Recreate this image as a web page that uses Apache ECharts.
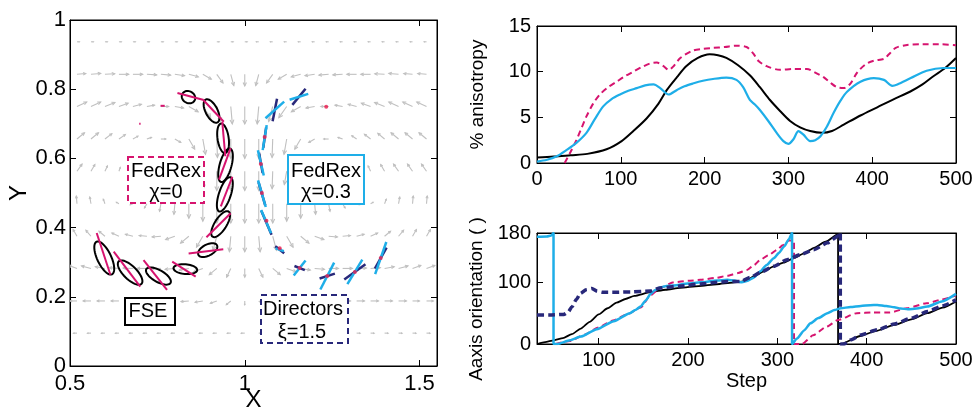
<!DOCTYPE html>
<html>
<head>
<meta charset="utf-8">
<script src="https://cdn.jsdelivr.net/npm/echarts@6/dist/echarts.min.js"></script>
<style>
  html, body { margin: 0; padding: 0; background: #fff; }
  #c { width: 972px; height: 410px; }
</style>
</head>
<body>
<div id="c"></div>
<script>
const FONT = '"Liberation Sans", Arial, Helvetica, sans-serif';
const MAG = '#d6146f', CYAN = '#1eaee8', NAVY = '#28287a', GRAY = '#c0c0c0', RED = '#e8174a';

// ---- left panel: velocity field (grid columns / rows, angle in deg, relative length)
const fieldX = [0.52, 0.56, 0.60, 0.64, 0.68, 0.72, 0.76, 0.80, 0.84, 0.88, 0.92, 0.96, 1.00,
  1.04, 1.08, 1.12, 1.16, 1.20, 1.24, 1.28, 1.32, 1.36, 1.40, 1.44, 1.48, 1.52];
const fieldY = [0.095, 0.188, 0.282, 0.375, 0.469, 0.563, 0.656, 0.75, 0.843, 0.937];
const fieldAngle = [
  [180,180,180,180,180,180,180,180,180,180,180,180,180, 0,0,0,0,0,0,0,0,0,0,0,0,0],
  [180,180,180,180,180,180,180,-178,-175,-170,-160,-140,-90, -40,-20,-10,-5,-2,0,0,0,0,0,0,0,0],
  [160,165,170,175,178,180,180,-175,-170,-160,-140,-115,-90, -65,-40,-20,-10,-5,0,0,2,5,10,15,20,20],
  [120,130,140,155,165,175,-175,-160,-140,-120,-105,-95,-90, -85,-75,-60,-40,-20,-5,5,15,25,40,50,60,60],
  [95,100,110,150,-160,-120,-100,-95,-90,-90,-90,-90,-90, -90,-90,-90,-90,-85,-80,-60,-20,30,70,80,85,85],
  [55,60,65,70,60,30,-20,-60,-80,-88,-90,-90,-90, -90,-92,-100,-120,-160,150,120,110,115,120,125,125,125],
  [40,40,38,35,30,20,0,-30,-60,-80,-88,-90,-90, -90,-92,-100,-120,-150,180,160,145,142,140,140,140,140],
  [25,25,22,20,15,10,0,-10,-30,-55,-75,-85,-90, -95,-105,-125,-150,-170,180,170,165,160,158,155,155,155],
  [5,5,3,0,0,-3,-5,-8,-15,-30,-55,-75,-90, -105,-125,-150,-165,-172,-175,-177,180,180,177,175,175,175],
  [0,0,0,0,0,0,0,0,0,0,0,0,0, 180,180,180,180,180,180,180,180,180,180,180,180,180]
];
const fieldMag = [
  [.18,.18,.18,.18,.18,.18,.18,.18,.18,.18,.18,.18,.18, .18,.18,.18,.18,.18,.18,.18,.18,.18,.18,.18,.18,.18],
  [.35,.4,.4,.4,.4,.4,.4,.4,.4,.4,.35,.3,.2, .3,.35,.4,.4,.4,.4,.4,.4,.4,.4,.4,.35,.35],
  [.45,.5,.5,.5,.5,.5,.5,.5,.5,.5,.5,.5,.45, .5,.5,.5,.5,.5,.5,.5,.5,.5,.5,.5,.45,.45],
  [.4,.4,.4,.4,.4,.4,.45,.5,.55,.65,.75,.8,.8, .8,.75,.65,.55,.5,.45,.4,.4,.4,.4,.4,.4,.4],
  [.4,.35,.25,.15,.15,.25,.4,.55,.75,.9,1,1,1, 1,1,.9,.75,.55,.4,.25,.15,.15,.25,.35,.4,.4],
  [.45,.4,.3,.2,.15,.15,.25,.45,.7,.9,1,1,1, 1,.9,.7,.45,.25,.15,.15,.2,.3,.4,.45,.45,.45],
  [.5,.5,.45,.4,.3,.25,.25,.35,.6,.8,.95,1,1, 1,.95,.8,.6,.35,.25,.25,.3,.4,.45,.5,.5,.5],
  [.55,.55,.55,.5,.45,.4,.4,.45,.55,.7,.8,.9,.9, .9,.8,.7,.55,.45,.4,.4,.45,.5,.55,.55,.55,.55],
  [.45,.5,.5,.5,.5,.5,.5,.5,.5,.5,.55,.6,.6, .6,.55,.5,.5,.5,.5,.5,.5,.5,.5,.5,.45,.45],
  [.12,.12,.12,.12,.12,.12,.12,.12,.12,.12,.12,.12,.12, .12,.12,.12,.12,.12,.12,.12,.12,.12,.12,.12,.12,.12]
];

// FSE ellipses: [x, y, semi-major, semi-minor, angle deg]
const fseEllipses = [
  [0.839, 0.777, 0.020, 0.017, -30],
  [0.905, 0.737, 0.037, 0.017, -63],
  [0.938, 0.658, 0.043, 0.016, -82],
  [0.945, 0.580, 0.050, 0.017, 75],
  [0.943, 0.496, 0.052, 0.017, 72],
  [0.931, 0.410, 0.043, 0.017, 58],
  [0.894, 0.335, 0.030, 0.016, 28],
  [0.830, 0.280, 0.034, 0.014, -5],
  [0.753, 0.260, 0.040, 0.017, -30],
  [0.672, 0.270, 0.046, 0.019, -45],
  [0.598, 0.312, 0.052, 0.020, -65]
];
// director segments: [x, y, length, angle deg]
const fedrexChi0 = [
  [0.845, 0.779, 0.078, -15], [0.911, 0.737, 0.085, -47], [0.940, 0.656, 0.100, -85],
  [0.943, 0.584, 0.097, 70], [0.948, 0.504, 0.092, 69], [0.925, 0.407, 0.098, 45],
  [0.889, 0.331, 0.100, 7], [0.826, 0.280, 0.080, -33], [0.744, 0.263, 0.109, -52],
  [0.663, 0.280, 0.126, -53], [0.596, 0.324, 0.127, -72],
  [0.765, 0.752, 0.012, 0], [0.700, 0.700, 0.004, 0]
];
const fedrexChi03 = [
  [1.086, 0.740, 0.072, 42], [1.155, 0.778, 0.056, 18], [1.057, 0.660, 0.073, 81],
  [1.046, 0.587, 0.075, 103], [1.049, 0.498, 0.080, 106], [1.061, 0.417, 0.073, 113],
  [1.100, 0.336, 0.025, -18], [1.157, 0.283, 0.055, 52], [1.236, 0.260, 0.087, 63],
  [1.315, 0.272, 0.083, 59], [1.389, 0.312, 0.098, 71]
];
const directorsXi = [
  [1.086, 0.740, 0.066, 79], [1.155, 0.778, 0.060, 51], [1.057, 0.660, 0.060, 82],
  [1.046, 0.587, 0.060, 100], [1.049, 0.498, 0.070, 106], [1.062, 0.414, 0.075, 113],
  [1.100, 0.336, 0.033, -39], [1.157, 0.283, 0.032, -22], [1.236, 0.260, 0.046, 18],
  [1.315, 0.272, 0.075, 36], [1.389, 0.312, 0.069, 61]
];
const redDots = [
  [1.233, 0.749], [1.057, 0.662], [1.046, 0.584], [1.049, 0.500], [1.062, 0.420],
  [1.100, 0.340], [1.157, 0.283], [1.236, 0.260], [1.315, 0.272], [1.389, 0.312]
];

// ---- top right: % anisotropy vs step
const anisoFSE = [[0,0.6],[20,0.7],[40,0.85],[60,1.0],[83,1.5],[101,2.4],[115,3.5],[131,4.9],[145,6.5],
  [155,8.0],[167,9.4],[178,10.6],[192,11.5],[206,11.9],[216,11.8],[226,11.5],[240,10.7],[254,9.6],
  [266,8.3],[278,6.9],[290,5.7],[302,4.6],[314,3.9],[326,3.5],[340,3.3],[352,3.5],[366,4.2],[386,5.2],
  [406,6.1],[426,7.0],[445,7.8],[460,8.6],[473,9.5],[487,10.4],[500,11.5]];
const anisoChi0 = [[33,0],[40,1.2],[47,2.5],[53,3.8],[59,5.1],[67,6.5],[75,7.5],[85,8.3],[95,8.9],
  [105,9.5],[115,10.0],[125,10.5],[135,10.9],[143,11.0],[151,10.6],[157,10.2],[163,10.6],[171,11.5],
  [186,12.3],[198,12.5],[210,12.6],[224,12.7],[238,12.85],[250,12.7],[258,12.0],[264,11.2],[274,10.6],
  [290,10.2],[306,10.3],[322,10.3],[332,9.9],[342,9.4],[350,8.8],[358,8.3],[366,8.2],[374,8.7],
  [382,9.9],[392,10.8],[402,11.2],[414,11.4],[420,11.9],[428,12.6],[440,12.9],[460,13.0],[480,13.0],[500,12.9]];
const anisoChi03 = [[0,0.15],[12,0.35],[23,0.7],[35,1.4],[47,2.2],[59,3.3],[69,4.8],[79,6.2],[89,7.0],
  [99,7.5],[109,7.9],[119,8.2],[129,8.5],[139,8.6],[147,8.2],[157,7.5],[167,8.0],[176,8.4],[186,8.7],
  [198,9.0],[210,9.2],[226,9.35],[238,9.1],[246,8.3],[254,6.9],[260,6.4],[266,5.8],[276,4.6],[286,3.3],
  [294,2.4],[300,2.1],[306,2.6],[312,3.5],[318,3.1],[326,2.4],[332,2.5],[338,2.9],[346,4.0],[354,5.5],
  [362,6.8],[370,7.8],[386,8.9],[402,9.3],[414,9.1],[424,8.45],[430,8.6],[446,9.3],[465,10.1],[485,10.4],[500,10.4]];

// ---- bottom right: axis orientation vs step
const orientFSE = [[31.5,0],[40,3],[50,6],[60,9.5],[70,16],[80,25],[90,36],[100,48],[110,58],[120,67],
  [130,73],[140,78],[158,84],[175,88],[191,91],[212,94],[232,96.8],[250,99.5],[260,101],[266,103.5],
  [274,110],[285,118],[296,126],[307,132],[318,139],[330,147],[341,156],[354,166],[368,178],[368,0],
  [371,0],[393,13],[410,21],[431,31],[450,40],[468,50],[485,59],[500,69]];
const orientChi0 = [[52,0],[68,5],[84,15],[100,27],[116,38],[132,48],[147,59],[158,79],[169,91],[184,100],
  [200,102.5],[214,104],[230,107],[244,110.6],[256,115],[266,120],[274,128],[281,136.6],[290,144],
  [300,153],[306,160],[313,168],[318.7,168],[318.7,0],[327.5,0],[340,14],[355,28],[368,39],[389,50],
  [407,51],[426,51],[445,58],[467,66],[484,72],[500,79]];
const orientChi03 = [[31,174],[42,174.5],[47,176],[49.5,180],[49.5,0],[54,0],[68,6],[80,12],[98,24],[117,37],
  [135,50],[141,55],[147,61],[153,71],[158,81],[163,87],[169,92],[176,94],[184,95],[200,98],[214,100],
  [232,103],[244,104],[252,103],[259,100],[266,102],[274,108],[281,118],[288,128],[296,139],[302,148],
  [307.5,158],[313,170],[316.5,180],[316.5,0],[322,9],[330,22],[337,33.6],[346,42],[356,50],[364,55],
  [371,58],[382,60],[393.5,61.8],[404,63],[412,63.4],[422,61.5],[431,59.7],[438,57.5],[446,56.4],
  [456,57.5],[468,60.7],[484,69],[500,81.3]];
const orientXi = [[31,47],[45,47],[61,48],[66,52],[70,60],[75,72],[79.5,82],[86,88],[92.5,90],[98,86],
  [104,84],[120,84],[135.5,84.5],[158,86],[169,91],[191,94],[214,97.5],[232.5,100],[244,101.4],[259,101.5],
  [270,108],[281,116],[296,126],[311,136.7],[326,145],[341,153],[356,164],[369,176],[370.5,180],
  [370.5,0],[375,0],[382,6.5],[393.5,14.6],[412,23],[431,32.5],[450,42],[468,52.6],[485,62],[500,71.6]];

// ---------------------------------------------------------------------------
const quiverData = [];
fieldY.forEach((y, r) => fieldX.forEach((x, c) => quiverData.push([x, y, fieldAngle[r][c], fieldMag[r][c]])));

const ARROW = 0.056; // data units for a relative length of 1

function renderArrow(params, api) {
  const a = api.value(2) * Math.PI / 180;
  const L = api.value(3) * ARROW;
  const p = api.coord([api.value(0), api.value(1)]);
  const s = api.size([1, 1]);
  const dx = Math.cos(a) * L * s[0], dy = -Math.sin(a) * L * s[1];
  const tip = [p[0] + dx, p[1] + dy];
  const hl = Math.min(Math.hypot(dx, dy) * 0.33, 4.5);
  const h1 = [tip[0] + Math.cos(a + Math.PI - 0.45) * hl, tip[1] - Math.sin(a + Math.PI - 0.45) * hl];
  const h2 = [tip[0] + Math.cos(a + Math.PI + 0.45) * hl, tip[1] - Math.sin(a + Math.PI + 0.45) * hl];
  return {
    type: 'group',
    children: [
      { type: 'line', shape: { x1: p[0], y1: p[1], x2: tip[0], y2: tip[1] }, style: { stroke: GRAY, lineWidth: 1.1 } },
      { type: 'polyline', shape: { points: [h1, tip, h2] }, style: { stroke: GRAY, fill: null, lineWidth: 1.1 } }
    ]
  };
}

function renderEllipse(params, api) {
  const c = api.coord([api.value(0), api.value(1)]);
  const s = api.size([1, 1]);
  const ra = api.value(2), rb = api.value(3), t = api.value(4) * Math.PI / 180;
  const pts = [];
  for (let i = 0; i < 48; i++) {
    const u = i / 48 * Math.PI * 2;
    const ex = ra * Math.cos(u), ey = rb * Math.sin(u);
    pts.push([c[0] + (ex * Math.cos(t) - ey * Math.sin(t)) * s[0],
              c[1] - (ex * Math.sin(t) + ey * Math.cos(t)) * s[1]]);
  }
  return { type: 'polygon', shape: { points: pts }, style: { stroke: '#000', fill: null, lineWidth: 2 } };
}

function segmentRenderer(color, width) {
  return function (params, api) {
    const c = api.coord([api.value(0), api.value(1)]);
    const s = api.size([1, 1]);
    const h = api.value(2) / 2, a = api.value(3) * Math.PI / 180;
    const dx = Math.cos(a) * h * s[0], dy = -Math.sin(a) * h * s[1];
    return {
      type: 'line',
      shape: { x1: c[0] - dx, y1: c[1] - dy, x2: c[0] + dx, y2: c[1] + dy },
      style: { stroke: color, lineWidth: width, lineCap: 'butt' }
    };
  };
}

function mkAxis(gridIndex, position, min, max, ticks, showLabel, fontSize, extra) {
  return Object.assign({
    type: 'value', gridIndex, position, min, max,
    splitLine: { show: false },
    axisLine: { show: true, onZero: false, lineStyle: { color: '#000', width: 1 } },
    axisTick: { show: true, inside: true, length: 6, customValues: ticks, lineStyle: { color: '#000', width: 1 } },
    axisLabel: { show: showLabel, customValues: ticks, color: '#000', fontFamily: FONT, fontSize: fontSize, margin: 6 },
    nameTextStyle: { color: '#000', fontFamily: FONT, fontSize: fontSize }
  }, extra || {});
}

const xTicks0 = [0.5, 1, 1.5];
const yTicks0 = [0, 0.2, 0.4, 0.6, 0.8, 1];
const xTicks1 = [0, 100, 200, 300, 400, 500];
const yTicks1 = [0, 5, 10, 15];
const xTicks2 = [100, 200, 300, 400, 500];
const yTicks2 = [0, 100, 180];

const chart = echarts.init(document.getElementById('c'), null, { renderer: 'canvas' });

function box(x, y, w, h, color, dashed) {
  return {
    type: 'rect', z: 100, shape: { x, y, width: w, height: h },
    style: { fill: '#fff', stroke: color, lineWidth: 2, lineDash: dashed ? [6, 4] : null }
  };
}
function label(text, x, y, size, rot) {
  return {
    type: 'text', z: 101, x, y, rotation: rot || 0,
    style: { text, fill: '#000', font: (size || 20) + 'px ' + FONT, align: 'center', verticalAlign: 'middle' }
  };
}

const gridBase = { show: true, borderColor: '#000', borderWidth: 1, containLabel: false, outerBoundsMode: 'none' };

chart.setOption({
  backgroundColor: '#fff',
  animation: false,
  grid: [
    Object.assign({ left: 70, top: 20, width: 367, height: 346 }, gridBase),
    Object.assign({ left: 537, top: 26, width: 419, height: 137 }, gridBase),
    Object.assign({ left: 537, top: 233, width: 419, height: 111 }, gridBase)
  ],
  xAxis: [
    mkAxis(0, 'bottom', 0.5, 1.55, xTicks0, true, 22, { name: 'X', nameLocation: 'middle', nameGap: 22, nameMoveOverlap: false,
      nameTextStyle: { color: '#000', fontFamily: FONT, fontSize: 24 }, axisLabel: { customValues: xTicks0, color: '#000', fontFamily: FONT, fontSize: 22, margin: 7 } }),
    mkAxis(0, 'top', 0.5, 1.55, xTicks0, false, 22),
    mkAxis(1, 'bottom', 0, 500, xTicks1, true, 20),
    mkAxis(1, 'top', 0, 500, xTicks1, false, 20),
    mkAxis(2, 'bottom', 31, 500, xTicks2, true, 20, { name: 'Step', nameLocation: 'middle', nameGap: 27 }),
    mkAxis(2, 'top', 31, 500, xTicks2, false, 20)
  ],
  yAxis: [
    mkAxis(0, 'left', 0, 1, yTicks0, true, 22, { name: 'Y', nameLocation: 'middle', nameGap: 38,
      nameTextStyle: { color: '#000', fontFamily: FONT, fontSize: 24 }, axisLabel: { customValues: yTicks0, color: '#000', fontFamily: FONT, fontSize: 22, margin: 4 } }),
    mkAxis(0, 'right', 0, 1, yTicks0, false, 22),
    mkAxis(1, 'left', 0, 15, yTicks1, true, 20, { name: '% anisotropy', nameLocation: 'middle', nameGap: 50,
      nameTextStyle: { color: '#000', fontFamily: FONT, fontSize: 19 } }),
    mkAxis(1, 'right', 0, 15, yTicks1, false, 20),
    mkAxis(2, 'left', 0, 180, yTicks2, true, 20),
    mkAxis(2, 'right', 0, 180, yTicks2, false, 20)
  ],
  graphic: [
    box(128, 157, 76, 46, MAG, true), label('FedRex', 166, 171), label('χ=0', 166, 192),
    box(288, 155, 76, 49, CYAN, false), label('FedRex', 326, 171), label('χ=0.3', 326, 192),
    box(125, 298, 50, 27, '#000', false), label('FSE', 148, 311),
    box(261, 295, 87, 48, NAVY, true), label('Directors', 303, 309), label('ξ=1.5', 302, 332),
    label('Aaxis orientation ( )', 477, 299, 19, Math.PI / 2)
  ],
  series: [
    { type: 'custom', name: 'velocity', xAxisIndex: 0, yAxisIndex: 0, clip: true, silent: true,
      renderItem: renderArrow, data: quiverData, z: 1 },
    { type: 'custom', name: 'FSE', xAxisIndex: 0, yAxisIndex: 0, clip: true, silent: true,
      renderItem: renderEllipse, data: fseEllipses, z: 3 },
    { type: 'custom', name: 'FedRex chi=0', xAxisIndex: 0, yAxisIndex: 0, clip: true, silent: true,
      renderItem: segmentRenderer(MAG, 2), data: fedrexChi0, z: 4 },
    { type: 'custom', name: 'Directors xi=1.5', xAxisIndex: 0, yAxisIndex: 0, clip: true, silent: true,
      renderItem: segmentRenderer(NAVY, 2.5), data: directorsXi, z: 4 },
    { type: 'custom', name: 'FedRex chi=0.3', xAxisIndex: 0, yAxisIndex: 0, clip: true, silent: true,
      renderItem: segmentRenderer(CYAN, 2.5), data: fedrexChi03, z: 5 },
    { type: 'scatter', name: 'start', xAxisIndex: 0, yAxisIndex: 0, silent: true, symbolSize: 4,
      itemStyle: { color: RED }, data: redDots, z: 6 },

    { type: 'line', xAxisIndex: 2, yAxisIndex: 2, data: anisoChi0, showSymbol: false, smooth: 0.3,
      lineStyle: { color: MAG, width: 2, type: [6, 4] } },
    { type: 'line', xAxisIndex: 2, yAxisIndex: 2, data: anisoFSE, showSymbol: false, smooth: 0.3,
      lineStyle: { color: '#000', width: 2 } },
    { type: 'line', xAxisIndex: 2, yAxisIndex: 2, data: anisoChi03, showSymbol: false, smooth: 0.3,
      lineStyle: { color: CYAN, width: 2.2 } },

    { type: 'line', xAxisIndex: 4, yAxisIndex: 4, data: orientFSE, showSymbol: false, smooth: 0.2, smoothMonotone: 'x',
      lineStyle: { color: '#000', width: 1.8 } },
    { type: 'line', xAxisIndex: 4, yAxisIndex: 4, data: orientChi0, showSymbol: false, smooth: 0.2, smoothMonotone: 'x',
      lineStyle: { color: MAG, width: 2, type: [6, 4] } },
    { type: 'line', xAxisIndex: 4, yAxisIndex: 4, data: orientChi03, showSymbol: false, smooth: 0.2, smoothMonotone: 'x',
      lineStyle: { color: CYAN, width: 2.5 } },
    { type: 'line', xAxisIndex: 4, yAxisIndex: 4, data: orientXi, showSymbol: false, smooth: 0.2, smoothMonotone: 'x',
      lineStyle: { color: NAVY, width: 3.5, type: [7, 4] } }
  ]
});
</script>
</body>
</html>
